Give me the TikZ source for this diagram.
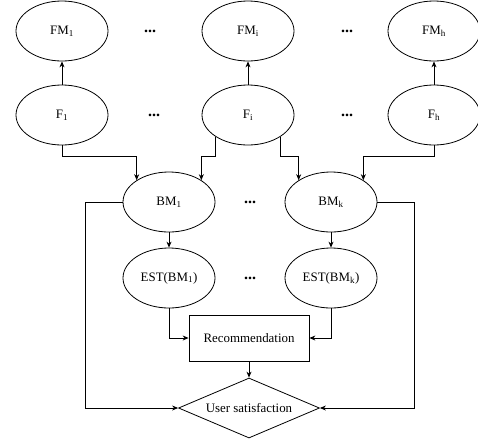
\documentclass[tikz,border=0pt]{standalone}
\usepackage{fontspec}
\setmainfont{Liberation Serif}
\usetikzlibrary{shapes.geometric,arrows.meta}
\begin{document}
\begin{tikzpicture}[x=1pt,y=-1pt,
  every node/.style={font=\fontsize{12.9}{15}\selectfont},
  ell/.style={draw, ellipse, minimum width=92pt, minimum height=60pt, inner sep=0pt, line width=0.8pt},
  recbox/.style={draw, rectangle, minimum width=120pt, minimum height=46pt, inner sep=0pt, line width=0.8pt},
  dia/.style={draw, diamond, aspect=2.35, minimum width=141pt, minimum height=60pt, inner sep=0pt, line width=0.8pt},
  dots/.style={font=\fontsize{16}{18}\selectfont\bfseries},
  arr/.style={-{Stealth[length=6pt,width=5pt]}, line width=0.8pt}]
\useasboundingbox (0,0) rectangle (478,445);
\node[ell] (FM1) at (62,31) {FM\textsubscript{1}};
\node[ell] (FMi) at (248,31) {FM\textsubscript{i}};
\node[ell] (FMh) at (434,31) {FM\textsubscript{h}};
\node[ell] (F1) at (62,115) {F\textsubscript{1}};
\node[ell] (Fi) at (248,115) {F\textsubscript{i}};
\node[ell] (Fh) at (434,115) {F\textsubscript{h}};
\node[ell] (BM1) at (169,202) {BM\textsubscript{1}};
\node[ell] (BMk) at (331,202) {BM\textsubscript{k}};
\node[ell] (E1) at (169,278) {EST(BM\textsubscript{1})};
\node[ell] (Ek) at (331,278) {EST(BM\textsubscript{k})};
\node[recbox] (Rec) at (249,338) {Recommendation};
\node[dia] (US) at (249,408) {User satisfaction};
\node[dots] (d1) at (150,31) {...};
\node[dots] (d2) at (347,31) {...};
\node[dots] (d3) at (154,115) {...};
\node[dots] (d4) at (347,115) {...};
\node[dots] (d5) at (250,202) {...};
\node[dots] (d6) at (250,278) {...};
\coordinate (lvl) at (0,156);
\draw[arr] (F1) -- (FM1);
\draw[arr] (Fi) -- (FMi);
\draw[arr] (Fh) -- (FMh);
\draw[arr] (F1.south) -- (F1.south |- lvl) -| (BM1.146);
\draw[arr] (Fi.214) -- (Fi.214 |- lvl) -| (BM1.34);
\draw[arr] (Fi.326) -- (Fi.326 |- lvl) -| (BMk.146);
\draw[arr] (Fh.south) -- (Fh.south |- lvl) -| (BMk.34);
\draw[arr] (BM1) -- (E1);
\draw[arr] (BMk) -- (Ek);
\draw[arr] (E1.south) |- (Rec.west);
\draw[arr] (Ek.south) |- (Rec.east);
\draw[arr] (Rec) -- (US);
\draw[arr] (BM1.west) -- ++(-37,0) |- (US.west);
\draw[arr] (BMk.east) -- ++(37,0) |- (US.east);
\end{tikzpicture}
\end{document}
